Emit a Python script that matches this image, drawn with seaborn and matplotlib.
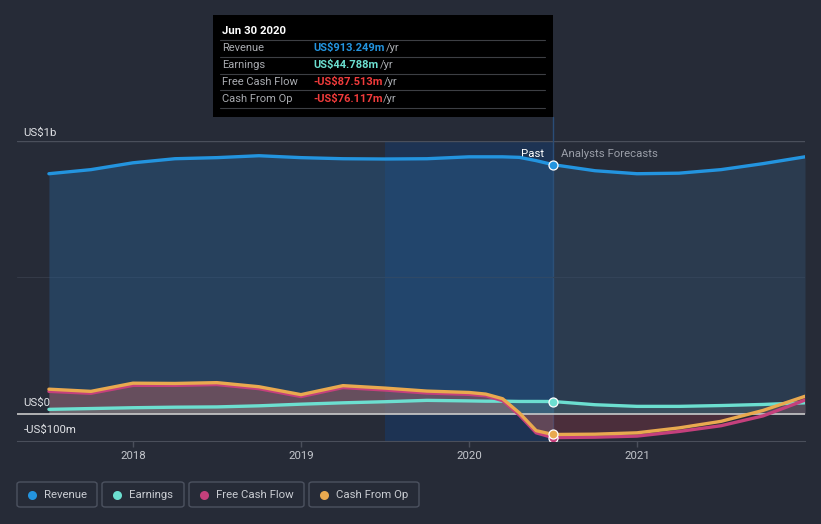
import matplotlib
matplotlib.use("Agg")
import matplotlib.pyplot as plt
from matplotlib.patches import FancyBboxPatch, Rectangle
from matplotlib.lines import Line2D
import seaborn as sns
import pandas as pd

# data (US$ m), decimal years
past_dates = [2017.5, 2017.75, 2018.0, 2018.25, 2018.5, 2018.75, 2019.0, 2019.25,
              2019.5, 2019.75, 2020.0, 2020.1, 2020.2, 2020.3, 2020.4, 2020.5]
past_revenue = [880, 895, 920, 935, 939, 946, 939, 935, 934, 935, 942, 942, 942, 940, 928, 913.249]
past_earnings = [16, 19, 22, 24, 25, 29, 35, 40, 44, 49, 47, 46, 46, 45, 45, 44.788]
past_cfo = [90, 82, 112, 111, 114, 99, 70, 103, 94, 83, 78, 72, 55, 3, -62, -76.117]
past_fcf = [82, 75, 104, 104, 107, 92, 63, 96, 87, 76, 71, 66, 48, -5, -70, -87.513]

fc_dates = [2020.5, 2020.75, 2021.0, 2021.25, 2021.5, 2021.75, 2022.0]
fc_revenue = [913.249, 891, 880, 882, 895, 917, 942]
fc_earnings = [44.788, 33, 27, 27, 30, 34, 40]
fc_cfo = [-76.117, -75, -70, -52, -28, 12, 64]
fc_fcf = [-87.513, -86, -82, -65, -44, -8, 50]

series = ["Revenue", "Earnings", "Free Cash Flow", "Cash From Op"]
colors = ["#2394df", "#6cdfd0", "#c4407c", "#e9a94f"]
tip_values = ["US$913.249m", "US$44.788m", "-US$87.513m", "-US$76.117m"]
tip_colors = ["#2394df", "#6cdfd0", "#f03b3b", "#f03b3b"]
x_ticks = [2018, 2019, 2020, 2021]

bg = "#262b37"
sns.set_style("dark")
plt.rcParams["font.family"] = ["Roboto", "DejaVu Sans"]

W, H = 821, 524
fig = plt.figure(figsize=(W / 100, H / 100), dpi=100, facecolor=bg)
ax = fig.add_axes([17 / W, (H - 441) / H, (805 - 17) / W, 300 / H])
ax.set_facecolor(bg)
ax.set_xlim(2017.31, 2022.0)
ax.set_ylim(-100, 1000)

past = pd.DataFrame({"date": past_dates, "Revenue": past_revenue, "Earnings": past_earnings,
                     "Free Cash Flow": past_fcf, "Cash From Op": past_cfo})
fc = pd.DataFrame({"date": fc_dates, "Revenue": fc_revenue, "Earnings": fc_earnings,
                   "Free Cash Flow": fc_fcf, "Cash From Op": fc_cfo})

# highlighted last year
ax.axvspan(2019.5, 2020.5, color="#173a66", alpha=0.6, lw=0, zorder=0)
ax.axvline(2020.5, color="#2a4d78", lw=1, zorder=0.5)

# fills
ax.fill_between(past["date"], past["Revenue"], 0, color="#2a5c8c", alpha=0.45, lw=0, zorder=1)
ax.fill_between(fc["date"], fc["Revenue"], 0, color="#33506e", alpha=0.45, lw=0, zorder=1)
ax.fill_between(past["date"], past["Cash From Op"], 0, color="#b5605f", alpha=0.45, lw=0, zorder=2)
ax.fill_between(fc["date"], fc["Cash From Op"], 0, color="#7a3340", alpha=0.45, lw=0, zorder=2)
ax.fill_between(past["date"], past["Earnings"], 0, color="#7fb8a8", alpha=0.25, lw=0, zorder=2)
ax.fill_between(fc["date"], fc["Earnings"], 0, color="#5a7f82", alpha=0.3, lw=0, zorder=2)

# grid / reference lines
ax.axhline(1000, color="#4a4f5b", lw=1, zorder=0.6)
ax.axhline(500, color="#343a47", lw=0.8, zorder=0.6)
ax.axhline(0, color="#c9c9c9", lw=1.2, zorder=3)

for name, col in zip(series, colors):
    for df in (past, fc):
        sns.lineplot(data=df, x="date", y=name, color=col, lw=2.4, ax=ax, zorder=4,
                     solid_capstyle="round")
    ax.scatter([fc_dates[0]], [fc[name].iloc[0]], s=42, color=col, edgecolor="white",
               linewidth=0.9, zorder=6)

ax.set_xlabel("")
ax.set_ylabel("")
ax.set_xticks(x_ticks)
ax.set_xticklabels([str(t) for t in x_ticks])
ax.set_yticks([])
ax.tick_params(axis="x", colors="#4a4f5b", labelcolor="#c3c6cc", labelsize=8.2,
               length=4, width=1, direction="out", pad=3, bottom=True)
for s in ["top", "right", "left"]:
    ax.spines[s].set_visible(False)
ax.spines["bottom"].set_color("#4a4f5b")
ax.grid(False)

# y labels
ax.text(2017.35, 1012, "US$1b", color="#e0e2e6", fontsize=8.2, va="bottom", ha="left")
ax.text(2017.35, 40, "US$0", color="#e0e2e6", fontsize=8.2, va="center", ha="left")
ax.text(2017.35, -60, "-US$100m", color="#e0e2e6", fontsize=8.2, va="center", ha="left")
ax.text(2020.45, 953, "Past", color="#ffffff", fontsize=8.2, ha="right", va="center")
ax.text(2020.55, 953, "Analysts Forecasts", color="#9a9ea8", fontsize=8.2, ha="left", va="center")

# tooltip
def fx(px):
    return px / W

def fy(py):
    return 1 - py / H

fig.add_artist(Line2D([fx(552.5), fx(552.5)], [fy(117), fy(141)], color="#2a4d78", lw=1))
fig.add_artist(Rectangle((fx(213), fy(117)), fx(553) - fx(213), fy(15) - fy(117),
                         facecolor="#000000", edgecolor="none"))
fig.text(fx(222), fy(31), "Jun 30 2020", color="white", fontsize=8.2, fontweight="bold", va="center")
row_y = [48, 65, 82, 99]
slash_x = [386, 380, 384, 383]
for i, name in enumerate(series):
    fig.add_artist(Line2D([fx(220), fx(545)], [fy(row_y[i] - 8.5)] * 2, color="#3d3f44", lw=0.8))
    fig.text(fx(222), fy(row_y[i]), name, color="#a9abb0", fontsize=8, va="center")
    fig.text(fx(313), fy(row_y[i]), tip_values[i], color=tip_colors[i], fontsize=8,
             fontweight="bold", va="center")
    fig.text(fx(slash_x[i]), fy(row_y[i]), "/yr", color="#a9abb0", fontsize=8, va="center")
fig.add_artist(Line2D([fx(220), fx(545)], [fy(108)] * 2, color="#3d3f44", lw=0.8))

# legend boxes
boxes = [(17, 97), (102, 184), (189, 304), (309, 419)]
for (x0, x1), name, col in zip(boxes, series, colors):
    fig.add_artist(FancyBboxPatch((fx(x0), fy(507)), fx(x1) - fx(x0), fy(482) - fy(507),
                                  boxstyle="round,pad=0,rounding_size=0.004",
                                  facecolor="none", edgecolor="#4c5260", lw=1))
    fig.add_artist(Line2D([fx(x0 + 15)], [fy(494.5)], marker="o", markersize=6.5,
                          color=col, markeredgewidth=0))
    fig.text(fx(x0 + 27), fy(494.5), name, color="#c9ccd2", fontsize=8.2, va="center")

fig.savefig("out.png", dpi=100, facecolor=bg)
